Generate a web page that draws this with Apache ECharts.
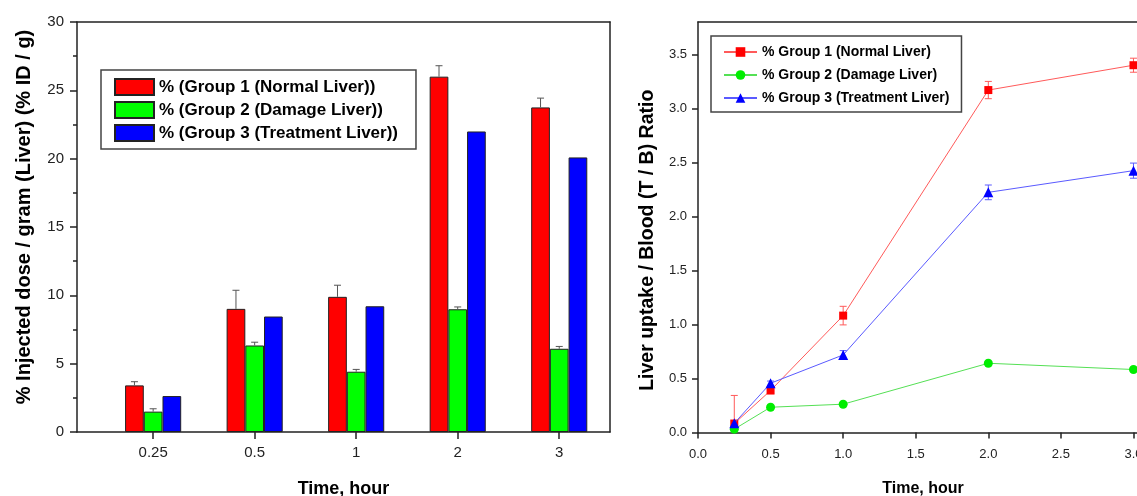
<!DOCTYPE html>
<html><head><meta charset="utf-8">
<script src="https://cdn.jsdelivr.net/npm/echarts@6/dist/echarts.min.js"></script>
<style>html,body{margin:0;padding:0;background:#fff}#c{width:1137px;height:496px}</style>
</head><body><div id="c"></div>
<script>
// ---- Left panel: bar chart ----
const barCategories = ['0.25', '0.5', '1', '2', '3'];
const barGroup1 = [3.41, 9.01, 9.89, 26.0, 23.75];
const barGroup1Err = [0.27, 1.36, 0.85, 0.80, 0.68];
const barGroup2 = [1.49, 6.33, 4.41, 8.98, 6.09];
const barGroup2Err = [0.21, 0.24, 0.17, 0.17, 0.17];
const barGroup3 = [2.63, 8.45, 9.20, 21.99, 20.09];
const barNames = ['% (Group 1 (Normal Liver))', '% (Group 2 (Damage Liver))', '% (Group 3 (Treatment Liver))'];
const barYTicks = [0, 5, 10, 15, 20, 25, 30];

// ---- Right panel: line chart ----
const lineTimes = [0.25, 0.5, 1.0, 2.0, 3.0];
const lineGroup1 = [0.083, 0.389, 1.082, 3.17, 3.40];
const lineGroup1Err = [0.26, 0.03, 0.086, 0.08, 0.065];
const lineGroup2 = [0.031, 0.234, 0.262, 0.641, 0.583];
const lineGroup2Err = [0.01, 0.01, 0.01, 0.01, 0.01];
const lineGroup3 = [0.086, 0.456, 0.718, 2.223, 2.424];
const lineGroup3Err = [0.02, 0.02, 0.04, 0.068, 0.07];
const lineNames = ['% Group 1 (Normal Liver)', '% Group 2 (Damage Liver)', '% Group 3 (Treatment Liver)'];

const FONT = "'Liberation Sans', Arial, sans-serif";
const BAR_W = 18.7;
const AX = '#222';
const catPos = barCategories.map((c, i) => i + 1);

function barErrRender(offsetIdx) {
  return function (params, api) {
    const x = api.value(0), y = api.value(1), e = api.value(2);
    const b = api.coord([x, y]);
    const t = api.coord([x, y + e]);
    const cx = b[0] + offsetIdx * BAR_W;
    const st = { stroke: '#555', lineWidth: 1 };
    return { type: 'group', children: [
      { type: 'line', shape: { x1: cx, y1: b[1], x2: cx, y2: t[1] }, style: st },
      { type: 'line', shape: { x1: cx - 3.5, y1: t[1], x2: cx + 3.5, y2: t[1] }, style: st }
    ]};
  };
}
function lineErrRender(color) {
  return function (params, api) {
    const x = api.value(0), y = api.value(1), e = api.value(2);
    const lo = api.coord([x, y - e]);
    const hi = api.coord([x, y + e]);
    const cx = lo[0];
    const st = { stroke: color, lineWidth: 1 };
    return { type: 'group', children: [
      { type: 'line', shape: { x1: cx, y1: lo[1], x2: cx, y2: hi[1] }, style: st },
      { type: 'line', shape: { x1: cx - 3.5, y1: hi[1], x2: cx + 3.5, y2: hi[1] }, style: st },
      { type: 'line', shape: { x1: cx - 3.5, y1: lo[1], x2: cx + 3.5, y2: lo[1] }, style: st }
    ]};
  };
}

const barColors = ['#ff0000', '#00ff00', '#0000ff'];
const barData = [barGroup1, barGroup2, barGroup3];
const barErr = [barGroup1Err, barGroup2Err, null];
const lineColors = ['#ff0000', '#00ee00', '#0000ff'];
const lineLineColors = ['#ff5a5a', '#55e055', '#5a5aff'];
const lineSymbols = ['rect', 'circle', 'triangle'];
const lineSymbolSizes = [8, 9, 10];
const lineData = [lineGroup1, lineGroup2, lineGroup3];
const lineErr = [lineGroup1Err, lineGroup2Err, lineGroup3Err];

const series = [];
barData.forEach((vals, k) => {
  series.push({
    type: 'bar', name: barNames[k], xAxisIndex: 0, yAxisIndex: 0,
    barWidth: BAR_W, barGap: '0%',
    itemStyle: { color: barColors[k], borderColor: '#222', borderWidth: 1 },
    data: vals.map((v, i) => [catPos[i], v]), z: 2
  });
});
barErr.forEach((errs, k) => {
  if (!errs) return;
  series.push({
    type: 'custom', xAxisIndex: 0, yAxisIndex: 0, z: 3,
    renderItem: barErrRender(k - 1),
    data: errs.map((e, i) => [catPos[i], barData[k][i], e]), silent: true
  });
});
lineErr.forEach((errs, k) => {
  series.push({
    type: 'custom', xAxisIndex: 2, yAxisIndex: 2, z: 1, clip: true,
    renderItem: lineErrRender(lineLineColors[k]),
    data: errs.map((e, i) => [lineTimes[i], lineData[k][i], e]), silent: true
  });
});
lineData.forEach((vals, k) => {
  series.push({
    type: 'line', name: lineNames[k], xAxisIndex: 2, yAxisIndex: 2, z: 2 + k,
    symbol: lineSymbols[k], symbolSize: lineSymbolSizes[k], showAllSymbol: true,
    lineStyle: { color: lineLineColors[k], width: 1 },
    itemStyle: { color: lineColors[k] },
    data: vals.map((v, i) => [lineTimes[i], v])
  });
});

const frameAxis = (extra) => Object.assign({
  type: 'value', axisLine: { show: true, onZero: false, lineStyle: { color: AX, width: 1.5 } },
  axisTick: { show: false }, axisLabel: { show: false }, splitLine: { show: false }
}, extra);

const option = {
  animation: false,
  backgroundColor: '#fff',
  textStyle: { fontFamily: FONT },
  grid: [
    { left: 77, top: 22, width: 533, height: 410, outerBoundsMode: 'none', containLabel: false },
    { left: 698, top: 22, width: 450, height: 410.5, outerBoundsMode: 'none', containLabel: false }
  ],
  legend: [
    {
      data: barNames, orient: 'vertical', left: 101, top: 70,
      icon: 'rect',
      itemWidth: 39, itemHeight: 16, itemGap: 5,
      padding: [8, 18, 7, 13], borderColor: '#444', borderWidth: 1.5,
      textStyle: { fontFamily: FONT, fontWeight: 'bold', fontSize: 17, color: '#000' },
      selectedMode: false
    },
    {
      data: lineNames, orient: 'vertical', left: 711, top: 36,
      itemWidth: 33, itemHeight: 12, itemGap: 9,
      padding: [9, 12, 7, 12], borderColor: '#444', borderWidth: 1.5,
      textStyle: { fontFamily: FONT, fontWeight: 'bold', fontSize: 14, color: '#000' },
      selectedMode: false
    }
  ],
  xAxis: [
    {
      type: 'value', gridIndex: 0, min: 0.25, max: 5.5,
      name: 'Time, hour', nameLocation: 'middle', nameGap: 48,
      nameTextStyle: { fontFamily: FONT, fontWeight: 'bold', fontSize: 18, color: '#000' },
      axisLine: { show: true, onZero: false, lineStyle: { color: AX, width: 1.5 } },
      axisTick: { show: true, length: 7, customValues: catPos, lineStyle: { color: AX, width: 1.5 } },
      axisLabel: { customValues: catPos, margin: 13, fontSize: 15, color: '#222', fontFamily: FONT,
        formatter: v => barCategories[Math.round(v) - 1] },
      splitLine: { show: false }
    },
    frameAxis({ gridIndex: 0, position: 'top', min: 0.25, max: 5.5 }),
    {
      type: 'value', gridIndex: 1, min: 0, max: 3.1, interval: 0.5,
      name: 'Time, hour', nameLocation: 'middle', nameGap: 48,
      nameTextStyle: { fontFamily: FONT, fontWeight: 'bold', fontSize: 16, color: '#000' },
      axisLine: { show: true, onZero: false, lineStyle: { color: AX, width: 1.5 } },
      axisTick: { show: true, length: 6, lineStyle: { color: AX, width: 1.5 } },
      axisLabel: { margin: 15, fontSize: 13, color: '#222', fontFamily: FONT, showMaxLabel: false,
        formatter: v => v.toFixed(1) },
      splitLine: { show: false }
    },
    frameAxis({ gridIndex: 1, position: 'top', min: 0, max: 3.1 })
  ],
  yAxis: [
    {
      type: 'value', gridIndex: 0, min: barYTicks[0], max: barYTicks[barYTicks.length - 1], interval: 5,
      name: '% Injected dose / gram (Liver) (% ID / g)', nameLocation: 'middle', nameGap: 43,
      nameTextStyle: { fontFamily: FONT, fontWeight: 'bold', fontSize: 20, color: '#000', padding: [0, 0, 0, 20] },
      axisLine: { show: true, onZero: false, lineStyle: { color: AX, width: 1.5 } },
      axisTick: { show: true, length: 7, lineStyle: { color: AX, width: 1.5 } },
      minorTick: { show: true, splitNumber: 2, length: 4, lineStyle: { color: AX, width: 1.5 } },
      axisLabel: { margin: 13, fontSize: 15, color: '#222', fontFamily: FONT },
      splitLine: { show: false }
    },
    frameAxis({ gridIndex: 0, position: 'right', min: 0, max: 30 }),
    {
      type: 'value', gridIndex: 1, min: 0, max: 3.8, interval: 0.5,
      name: 'Liver uptake / Blood (T / B) Ratio', nameLocation: 'middle', nameGap: 40,
      nameTextStyle: { fontFamily: FONT, fontWeight: 'bold', fontSize: 19.5, color: '#000', padding: [0, 26, 0, 0] },
      axisLine: { show: true, onZero: false, lineStyle: { color: AX, width: 1.5 } },
      axisTick: { show: true, length: 6, lineStyle: { color: AX, width: 1.5 } },
      axisLabel: { margin: 11, fontSize: 13, color: '#222', fontFamily: FONT, showMaxLabel: false,
        formatter: v => v.toFixed(1) },
      splitLine: { show: false }
    }
  ],
  series: series
};

const chart = echarts.init(document.getElementById('c'), null, { renderer: 'canvas' });
chart.setOption(option);
</script>
</body></html>
